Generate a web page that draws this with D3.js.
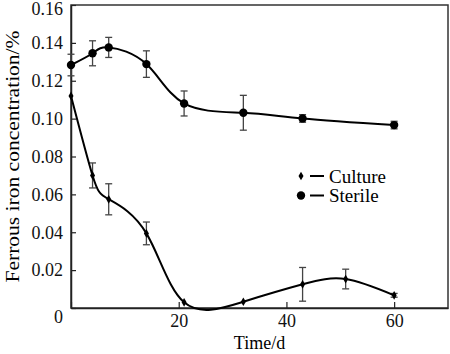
<!DOCTYPE html>
<html>
<head>
<meta charset="utf-8">
<script src="https://cdn.jsdelivr.net/npm/d3@7"></script>
</head>
<body style="margin:0">
<script>
// data
var cultureTime = [0, 4, 7, 14, 21, 32, 43, 51, 60];
var cultureVal  = [0.112, 0.070, 0.0574, 0.0394, 0.003, 0.0033, 0.0125, 0.0153, 0.0067];
var cultureErr  = [0, 0.0066, 0.0082, 0.006, 0, 0, 0.0089, 0.0052, 0.001];

var sterileTime = [0, 4, 7, 14, 21, 32, 43, 60];
var sterileVal  = [0.1283, 0.1345, 0.1376, 0.1288, 0.108, 0.1031, 0.1001, 0.0966];
var sterileErr  = [0.0057, 0.0066, 0.0053, 0.007, 0.0066, 0.0092, 0.002, 0.002];

var xTicks = [0, 20, 40, 60];
var yTicks = [0, 0.02, 0.04, 0.06, 0.08, 0.10, 0.12, 0.14, 0.16];

var FONT = "'Liberation Serif'";

// set the dimensions and margins of the graph
var margin = {top: 5, right: 2, bottom: 46, left: 71},
    width = 450 - margin.left - margin.right,
    height = 354 - margin.top - margin.bottom;

var x = d3.scaleLinear().domain([0, 70]).range([0, width]);
var y = d3.scaleLinear().domain([0, 0.16]).range([height, 0]);

var svg = d3.select("body").append("svg")
    .attr("width", 450)
    .attr("height", 354)
    .style("font-family", FONT)
  .append("g")
    .attr("transform", "translate(" + margin.left + "," + margin.top + ")");

// frame
svg.append("rect")
    .attr("width", width)
    .attr("height", height)
    .attr("fill", "none")
    .attr("stroke", "#333")
    .attr("stroke-width", 1.5);

// axes
var xAxis = svg.append("g")
    .attr("transform", "translate(0," + height + ")")
    .call(d3.axisBottom(x).tickValues(xTicks).tickSizeInner(-6).tickSizeOuter(0).tickPadding(6)
        .tickFormat(function(d) { return d === 0 ? "" : d; }));

var yAxis = svg.append("g")
    .call(d3.axisLeft(y).tickValues(yTicks).tickSizeInner(-5).tickSizeOuter(0).tickPadding(8)
        .tickFormat(function(d) { return d === 0 ? "0" : d3.format(".2f")(d); }));

[xAxis, yAxis].forEach(function(a) {
  a.attr("font-family", null).attr("font-size", 18);
  a.select(".domain").attr("stroke", "#222").attr("stroke-width", 1.5);
  a.selectAll(".tick line").attr("stroke", "#222").attr("stroke-width", 1.2);
  a.selectAll("text").attr("fill", "#111").style("font-family", FONT);
});
yAxis.selectAll(".tick").filter(function(d) { return d === 0; })
    .select("text").attr("dy", "0.8em");
yAxis.selectAll(".tick").filter(function(d) { return d === 0.16; })
    .select("text").attr("dy", "0.5em");

// axis titles
svg.append("text")
    .attr("x", width / 2)
    .attr("y", height + 41)
    .attr("text-anchor", "middle")
    .attr("font-size", 18)
    .style("font-family", FONT)
    .text("Time/d");

svg.append("text")
    .attr("transform", "rotate(-90)")
    .attr("x", -height / 2)
    .attr("y", -52)
    .attr("text-anchor", "middle")
    .attr("font-size", 18)
    .attr("textLength", 252)
    .attr("lengthAdjust", "spacingAndGlyphs")
    .style("font-family", FONT)
    .text("Ferrous iron concentration/%");

var line = d3.line()
    .x(function(d) { return x(d[0]); })
    .y(function(d) { return y(d[1]); })
    .curve(d3.curveNatural);

function drawSeries(times, vals, errs, marker) {
  var data = times.map(function(t, i) { return [t, vals[i], errs[i]]; });

  // error bars
  var eb = svg.append("g").attr("stroke", "#444").attr("stroke-width", 1.3);
  data.filter(function(d) { return d[2] > 0; }).forEach(function(d) {
    var cx = x(d[0]), y1 = y(d[1] + d[2]), y2 = y(d[1] - d[2]);
    eb.append("line").attr("x1", cx).attr("x2", cx).attr("y1", y1).attr("y2", y2);
    eb.append("line").attr("x1", cx - 3.5).attr("x2", cx + 3.5).attr("y1", y1).attr("y2", y1);
    eb.append("line").attr("x1", cx - 3.5).attr("x2", cx + 3.5).attr("y1", y2).attr("y2", y2);
  });

  svg.append("path")
      .datum(data)
      .attr("fill", "none")
      .attr("stroke", "#000")
      .attr("stroke-width", 2)
      .attr("d", line);

  svg.append("g").selectAll("path")
      .data(data)
      .enter().append("path")
      .attr("transform", function(d) { return "translate(" + x(d[0]) + "," + y(d[1]) + ")"; })
      .attr("d", marker)
      .attr("fill", "#000");
}

var diamond = d3.symbol().type(d3.symbolDiamond).size(22)();
var circle = d3.symbol().type(d3.symbolCircle).size(55)();

drawSeries(cultureTime, cultureVal, cultureErr, diamond);
drawSeries(sterileTime, sterileVal, sterileErr, circle);

// legend
var legend = svg.append("g").attr("transform", "translate(" + (301 - margin.left) + "," + (176 - margin.top) + ")");
[["Culture", diamond], ["Sterile", circle]].forEach(function(item, i) {
  var g = legend.append("g").attr("transform", "translate(0," + (i * 19.5) + ")");
  g.append("path").attr("d", item[1]).attr("fill", "#000");
  g.append("line").attr("x1", 9).attr("x2", 23).attr("y1", 0).attr("y2", 0)
      .attr("stroke", "#000").attr("stroke-width", 2);
  g.append("text").attr("x", 28).attr("y", 0).attr("dy", "0.35em")
      .attr("font-size", 19).style("font-family", FONT).text(item[0]);
});
</script>
</body>
</html>
